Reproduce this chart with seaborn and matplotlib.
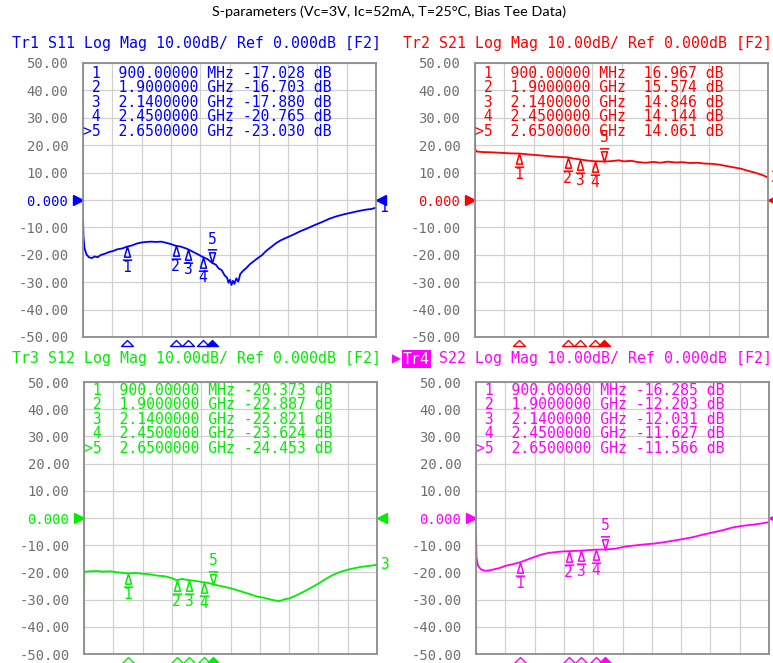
import numpy as np
import pandas as pd
import matplotlib
matplotlib.use("Agg")
import matplotlib.pyplot as plt
import matplotlib.transforms as mtrans
from matplotlib.path import Path
import seaborn as sns

# ---------------- data ----------------
title = "S-parameters (Vc=3V, Ic=52mA, T=25°C, Bias Tee Data)"

# marker frequencies (GHz), same for all traces
marker_freq = [0.9, 1.9, 2.14, 2.45, 2.65]

s11_marker = [-17.028, -16.703, -17.880, -20.765, -23.030]
s21_marker = [16.967, 15.574, 14.846, 14.144, 14.061]
s12_marker = [-20.373, -22.887, -22.821, -23.624, -24.453]
s22_marker = [-16.285, -12.203, -12.031, -11.627, -11.566]

# traces (GHz, dB)
s11_freq = [0.00, 0.01, 0.03, 0.07, 0.12, 0.18, 0.24, 0.30, 0.36, 0.45, 0.55, 0.62,
            0.70, 0.80, 1.00, 1.10, 1.20, 1.30, 1.40, 1.50, 1.60, 1.70, 1.80, 2.00,
            2.25, 2.35, 2.55, 2.72, 2.78, 2.84, 2.90, 2.95, 2.98, 3.01, 3.04, 3.07,
            3.10, 3.14, 3.18, 3.22, 3.28, 3.34, 3.42, 3.50, 3.58, 3.66, 3.75, 3.85,
            3.95, 4.05, 4.15, 4.30, 4.45, 4.60, 4.75, 4.90, 5.05, 5.20, 5.35, 5.50,
            5.65, 5.80, 5.90, 6.00]
s11_db = [-7.5, -13.5, -17.5, -19.8, -20.9, -21.2, -20.6, -20.9, -20.1, -19.6, -18.9, -18.6,
          -18.0, -17.7, -16.6, -15.9, -15.5, -15.3, -15.2, -15.3, -15.2, -15.6, -16.1, -17.0,
          -18.9, -19.8, -21.6, -23.6, -25.0, -25.6, -27.5, -28.4, -30.2, -29.1, -31.0, -29.5,
          -30.6, -28.6, -29.8, -27.0, -25.8, -24.9, -23.4, -22.3, -21.2, -20.2, -18.6, -17.2,
          -15.8, -14.7, -13.9, -12.7, -11.4, -10.3, -9.1, -8.0, -6.8, -5.9, -5.2, -4.6,
          -4.0, -3.5, -3.3, -2.8]

s21_freq = [0.00, 0.005, 0.03, 0.15, 0.35, 0.55, 0.75, 1.05, 1.25, 1.45, 1.65, 2.00,
            2.30, 2.55, 2.80, 2.95, 3.05, 3.20, 3.35, 3.50, 3.65, 3.80, 3.95, 4.10,
            4.25, 4.40, 4.55, 4.70, 4.85, 5.00, 5.15, 5.30, 5.45, 5.60, 5.75, 5.90, 6.00]
s21_db = [21.5, 18.5, 17.7, 17.5, 17.4, 17.2, 17.0, 16.7, 16.4, 16.1, 15.8, 15.2,
          14.4, 14.1, 14.2, 14.5, 14.1, 14.3, 13.8, 13.6, 13.9, 13.6, 14.0, 13.7,
          13.8, 13.5, 13.6, 13.3, 13.2, 12.9, 12.4, 11.9, 11.4, 10.6, 9.9, 9.0, 8.2]

s12_freq = [0.00, 0.005, 0.10, 0.25, 0.40, 0.55, 0.70, 1.05, 1.20, 1.35, 1.50, 1.65,
            1.78, 2.00, 2.30, 2.55, 2.80, 2.95, 3.10, 3.25, 3.40, 3.55, 3.70, 3.85,
            4.00, 4.10, 4.20, 4.35, 4.50, 4.65, 4.80, 4.95, 5.10, 5.25, 5.40, 5.55,
            5.70, 5.85, 6.00]
s12_db = [-27.5, -19.8, -19.6, -19.5, -19.7, -19.6, -20.0, -20.2, -20.5, -20.7, -21.2, -21.4,
          -22.0, -22.4, -23.2, -23.9, -25.0, -25.6, -26.3, -27.2, -28.0, -28.9, -29.4, -30.1,
          -30.6, -29.9, -29.6, -28.4, -27.1, -25.6, -24.1, -22.4, -20.9, -19.8, -19.0, -18.4,
          -17.9, -17.6, -17.2]

s22_freq = [0.00, 0.01, 0.04, 0.10, 0.18, 0.26, 0.36, 0.48, 0.60, 0.75, 1.05, 1.20,
            1.35, 1.50, 1.65, 1.78, 2.00, 2.30, 2.55, 2.85, 3.05, 3.25, 3.45, 3.65,
            3.85, 4.05, 4.25, 4.45, 4.65, 4.85, 5.05, 5.25, 5.45, 5.65, 5.85, 6.00]
s22_db = [-6.1, -14.5, -17.5, -18.9, -19.4, -19.3, -18.9, -18.4, -17.6, -17.0, -15.3, -14.3,
          -13.4, -12.8, -12.5, -12.3, -12.1, -11.8, -11.6, -11.3, -10.5, -10.1, -9.7, -9.4,
          -8.9, -8.3, -7.7, -7.0, -6.1, -5.3, -4.5, -3.5, -2.9, -2.5, -2.0, -1.5]

ytick_values = [-50, -40, -30, -20, -10, 0, 10, 20, 30, 40, 50]
ytick_labels = ["-50.00", "-40.00", "-30.00", "-20.00", "-10.00", "0.000",
                "10.00", "20.00", "30.00", "40.00", "50.00"]

# ---------------- figure ----------------
W, H = 773, 663
sns.set_style("white")
plt.rcParams["font.family"] = ["DejaVu Sans Mono", "DejaVu Sans"]

fig = plt.figure(figsize=(W / 100, H / 100), dpi=100)
fig.patch.set_facecolor("white")


def fx(x):
    return x / W


def fy(y):
    return 1 - y / H


# title, fitted to the width it has in the screenshot
t = fig.text(fx(389), fy(12), title, family=["Lato", "DejaVu Sans"], fontsize=10,
             ha="center", va="center", color="black")
r = fig.canvas.get_renderer()
t.set_fontsize(10 * 352 / t.get_window_extent(r).width)

# marker glyphs
up_path = Path([(0, 1), (-0.45, -0.55), (0.45, -0.55), (0, 1), (-0.7, -1), (0.7, -1)],
               [Path.MOVETO, Path.LINETO, Path.LINETO, Path.CLOSEPOLY, Path.MOVETO, Path.LINETO])
down_path = Path([(0, -1), (-0.45, 0.55), (0.45, 0.55), (0, -1), (-0.7, 1), (0.7, 1)],
                 [Path.MOVETO, Path.LINETO, Path.LINETO, Path.CLOSEPOLY, Path.MOVETO, Path.LINETO])
ind_path = Path([(0, 0.5), (-1, -0.5), (1, -0.5), (0, 0.5)],
                [Path.MOVETO, Path.LINETO, Path.LINETO, Path.CLOSEPOLY])

panels = [
    # name, param, freq, db, markers, color, left, top, height, header_x, header_y, row_y
    ("Tr1", "S11", s11_freq, s11_db, s11_marker, "#0000ff", 83, 63, 274, 12, 43.5, 73.5, "1"),
    ("Tr2", "S21", s21_freq, s21_db, s21_marker, "#ff0000", 475, 63, 274, 403, 43.5, 73.5, "2"),
    ("Tr3", "S12", s12_freq, s12_db, s12_marker, "#00ee00", 84, 382, 272, 12, 359, 390.5, "3"),
    ("Tr4", "S22", s22_freq, s22_db, s22_marker, "#ff00ff", 476, 382, 272, 403, 359, 390.5, "4"),
]

MS = 9.6
for name, par, freq, db, mval, color, left, top, h, hx, hy, ry, num in panels:
    ax = fig.add_axes([fx(left), fy(top + h), 293 / W, h / H])

    # merge screen trace with the marker readouts
    df = pd.DataFrame({"freq": list(freq) + marker_freq, "db": list(db) + mval})
    df = df.sort_values("freq")
    sns.lineplot(data=df, x="freq", y="db", ax=ax, color=color, lw=1.3,
                 estimator=None, sort=True)

    ax.set_xlim(0, 6)
    ax.set_ylim(-50, 50)
    ax.set_xticks(np.linspace(0, 6, 11))
    ax.set_xticklabels([])
    ax.set_yticks(ytick_values)
    ax.set_yticklabels(ytick_labels)
    ax.set_xlabel("")
    ax.set_ylabel("")
    ax.tick_params(length=0, pad=10.5, labelsize=10, labelcolor="#707070")
    for lab in ax.get_yticklabels():
        if lab.get_text() == "0.000":
            lab.set_color(color)
    ax.grid(True, color="#d0d0d0", lw=0.9)
    for s in ax.spines.values():
        s.set_color("#8c8c8c")
        s.set_linewidth(1.3)

    # header
    if name == "Tr4":
        fig.text(fx(hx - 11), fy(hy), "\u25B6", family="DejaVu Sans", fontsize=8.5,
                 color=color, ha="left", va="center")
        fig.text(fx(hx), fy(hy), name, fontsize=10.7, color="white", ha="left", va="center",
                 bbox=dict(facecolor=color, edgecolor="none", pad=0.8))
        fig.text(fx(hx + 36), fy(hy), f"{par} Log Mag 10.00dB/ Ref 0.000dB [F2]",
                 fontsize=10.7, color=color, ha="left", va="center")
    else:
        fig.text(fx(hx), fy(hy), f"{name} {par} Log Mag 10.00dB/ Ref 0.000dB [F2]",
                 fontsize=10.7, color=color, ha="left", va="center")

    # marker table
    for i, (f, v) in enumerate(zip(marker_freq, mval)):
        tag = ">5" if i == 4 else f" {i + 1}"
        if f < 1:
            fs = f"{f * 1000:.5f} MHz"
        else:
            fs = f"{f:.7f} GHz"
        fig.text(fx(left), fy(ry + i * 14.4), f"{tag}  {fs} {v:7.3f} dB",
                 fontsize=10.6, color=color, ha="left", va="center")

    # markers on the trace
    up_tr = mtrans.offset_copy(ax.transData, fig=fig, y=-MS / 2, units="points")
    ax.plot(marker_freq[:4], mval[:4], ls="none", marker=up_path, ms=MS, mfc="none",
            mec=color, mew=1.1, transform=up_tr, clip_on=False)
    dn_tr = mtrans.offset_copy(ax.transData, fig=fig, y=MS / 2, units="points")
    ax.plot(marker_freq[4:], mval[4:], ls="none", marker=down_path, ms=MS, mfc="none",
            mec=color, mew=1.1, transform=dn_tr, clip_on=False)
    for i, (f, v) in enumerate(zip(marker_freq, mval)):
        off = 17.3 if i == 4 else -15.1
        ax.annotate(str(i + 1), (f, v), xytext=(0, off), textcoords="offset points",
                    ha="center", va="center", color=color, fontsize=10.6,
                    annotation_clip=False)

    # marker indicators under the grid
    ind_tr = mtrans.offset_copy(ax.get_xaxis_transform(), fig=fig, y=-6, units="dots")
    ax.plot(marker_freq[:4], [0] * 4, ls="none", marker=ind_path, ms=8.6, mfc="none",
            mec=color, mew=1.0, transform=ind_tr, clip_on=False)
    ax.plot(marker_freq[4:], [0], ls="none", marker=ind_path, ms=8.6, mfc=color,
            mec=color, mew=1.0, transform=ind_tr, clip_on=False)

    # reference level arrows
    lt = mtrans.offset_copy(ax.transData, fig=fig, x=-5, units="dots")
    ax.plot([0], [0], ls="none", marker=">", ms=7, color=color, transform=lt, clip_on=False)
    rt = mtrans.offset_copy(ax.transData, fig=fig, x=5, units="dots")
    ax.plot([6], [0], ls="none", marker="<", ms=7, color=color, transform=rt, clip_on=False)

    # trace number at the end
    ax.annotate(num, (6, df["db"].iloc[-1]), xytext=(2, 0), textcoords="offset points",
                ha="left", va="center", color=color, fontsize=10.6, annotation_clip=False)

fig.savefig("out.png", dpi=100, facecolor="white")
